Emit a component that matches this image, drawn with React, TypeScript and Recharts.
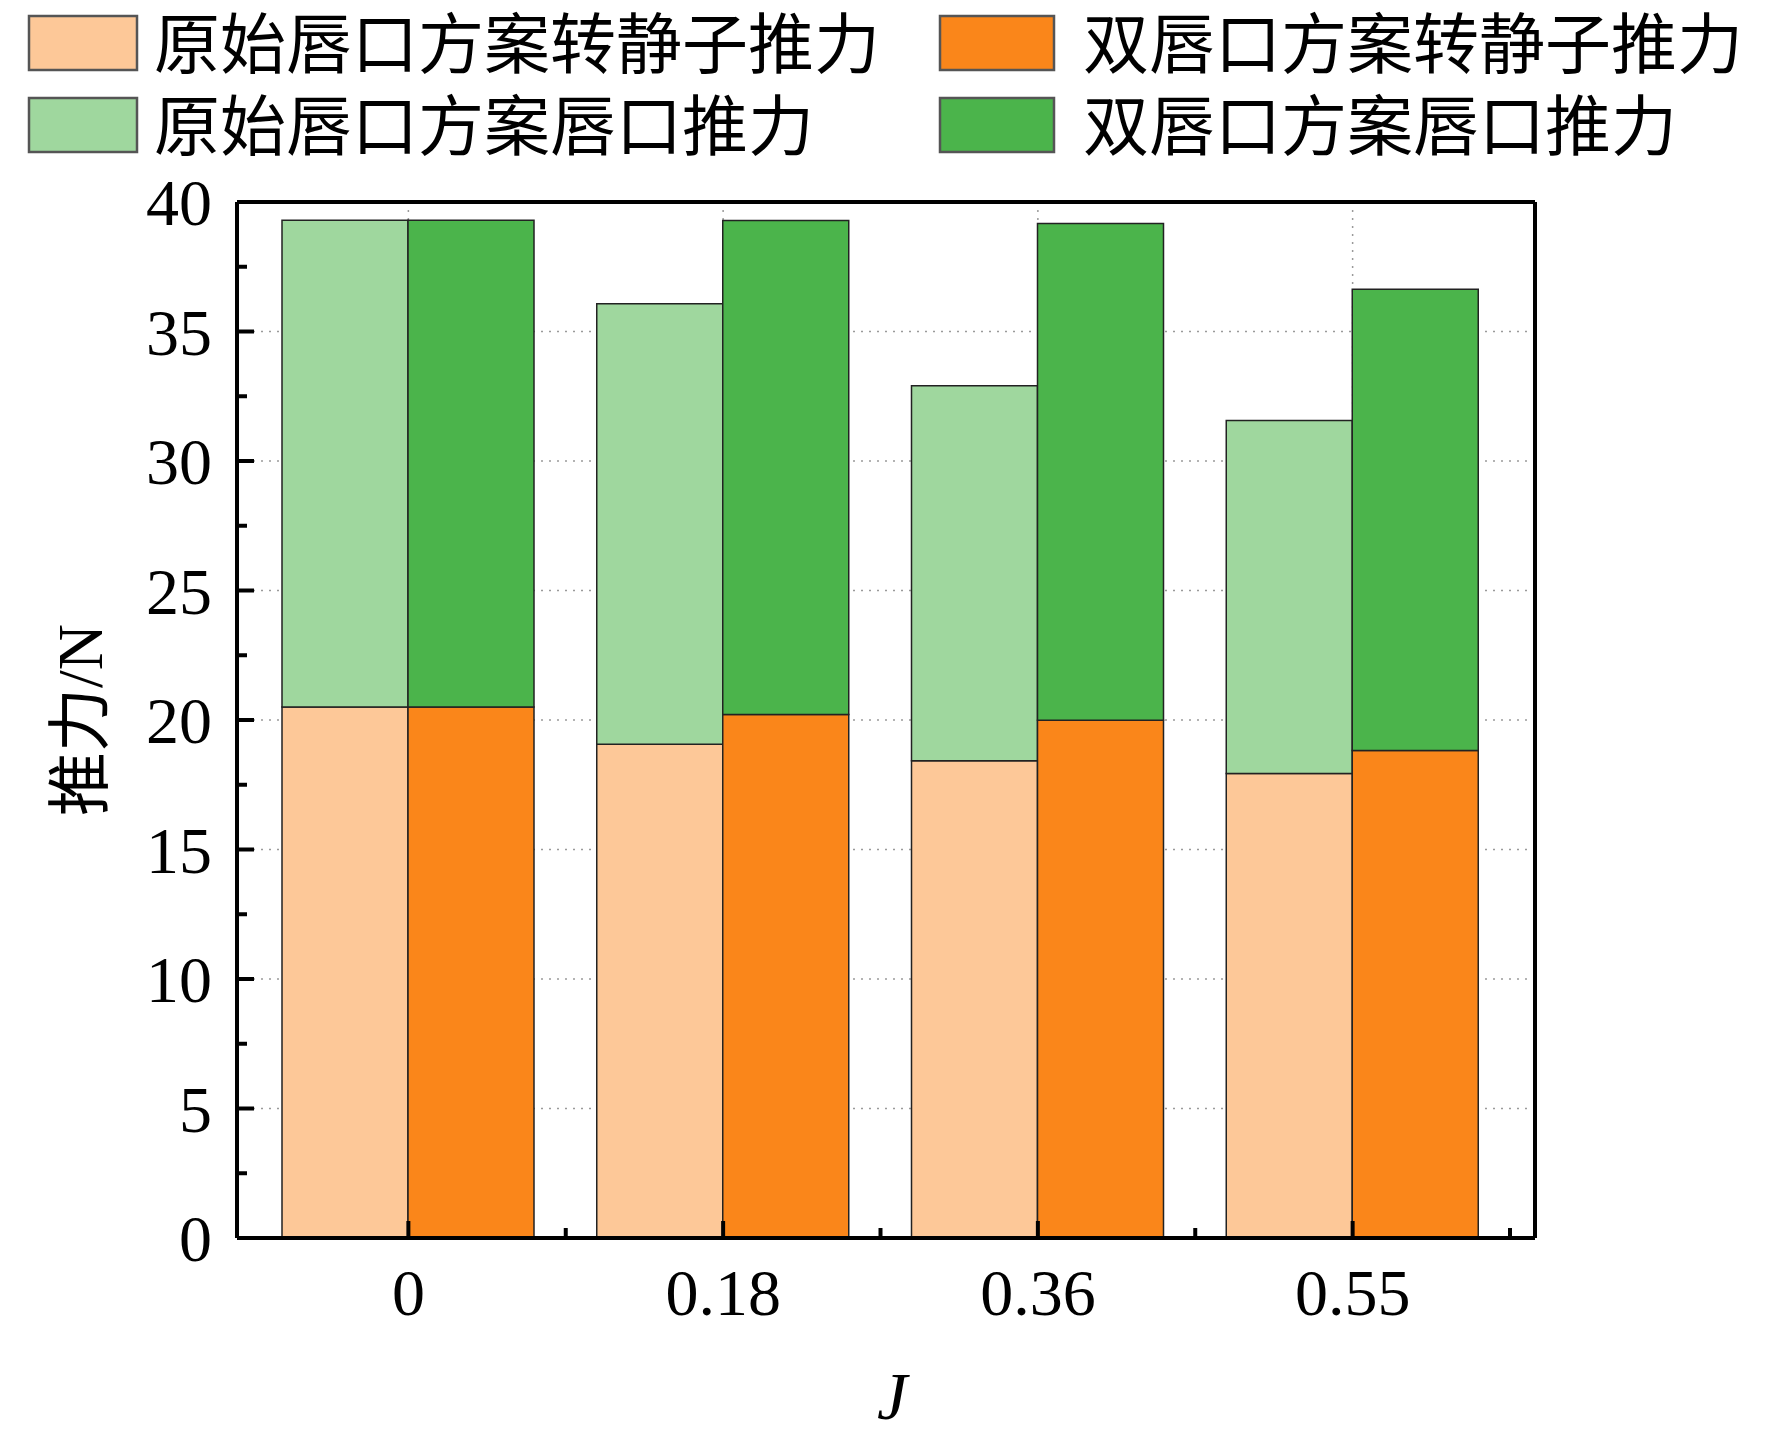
import React from "react"
import { Bar, BarChart, CartesianGrid, XAxis, YAxis } from "recharts"

// J values (category labels on the x axis)
const J_LABELS = ["0", "0.18", "0.36", "0.55"]

// thrust components, N
const ORIG_STATOR = [20.5, 19.06, 18.43, 17.93]
const ORIG_LIP = [18.8, 17.01, 14.48, 13.63]
const DUAL_STATOR = [20.5, 20.21, 19.99, 18.82]
const DUAL_LIP = [18.8, 19.08, 19.18, 17.81]

const Y_MAJOR = [0, 5, 10, 15, 20, 25, 30, 35, 40]
const Y_MINOR = [2.5, 7.5, 12.5, 17.5, 22.5, 27.5, 32.5, 37.5]
const Y_DOMAIN = [0, 40]

const SERIES = [
  { key: "origStator", name: "原始唇口方案转静子推力", color: "#FDC898", stack: "orig", values: ORIG_STATOR },
  { key: "origLip", name: "原始唇口方案唇口推力", color: "#9FD79E", stack: "orig", values: ORIG_LIP },
  { key: "dualStator", name: "双唇口方案转静子推力", color: "#FA861A", stack: "dual", values: DUAL_STATOR },
  { key: "dualLip", name: "双唇口方案唇口推力", color: "#4BB44B", stack: "dual", values: DUAL_LIP },
]

// legend grid: rows x columns, as in the figure
const LEGEND_ROWS = [
  ["origStator", "dualStator"],
  ["origLip", "dualLip"],
]

const SERIF = "'Liberation Serif', 'Times New Roman', serif"
const CJK = "'Noto Sans CJK SC', 'Noto Sans', sans-serif"

const W = 1772
const H = 1441

const rows = J_LABELS.map((j, i) => {
  const row: Record<string, string | number> = { j }
  SERIES.forEach((s) => {
    row[s.key] = s.values[i]
  })
  return row
})

const Y_TICKS = [...Y_MAJOR, ...Y_MINOR].sort((a, b) => a - b)

function gridRows(p: any) {
  const sc = p?.yAxis?.scale
  const inner = Y_MAJOR.slice(1, -1)
  if (typeof sc === "function") return inner.map((v) => sc(v))
  if (sc && typeof sc.map === "function") return inner.map((v) => sc.map(v))
  const off = p?.offset
  if (!off) return []
  return inner.map((v) => off.top + off.height * (1 - (v - Y_DOMAIN[0]) / (Y_DOMAIN[1] - Y_DOMAIN[0])))
}

function YTick(props: any) {
  const { x = 0, y = 0, payload } = props
  const major = Y_MAJOR.includes(payload.value)
  return (
    <g>
      <line x1={x} x2={x + (major ? 17 : 10)} y1={y} y2={y} stroke="#000" strokeWidth={4} />
      {major && (
        <text x={x - 25} y={y} dy="0.35em" textAnchor="end" fontFamily={SERIF} fontSize={66} fill="#000">
          {payload.value}
        </text>
      )}
    </g>
  )
}

function XTick(props: any) {
  const { x = 0, y = 0, payload, width = 0, visibleTicksCount = 4 } = props
  const half = payload.offset > 0 ? payload.offset : (width - 39) / visibleTicksCount / 2
  return (
    <g>
      <line x1={x} x2={x} y1={y} y2={y - 17} stroke="#000" strokeWidth={4} />
      <line x1={x + half} x2={x + half} y1={y} y2={y - 10} stroke="#000" strokeWidth={4} />
      <text x={x} y={y + 30} dy="0.71em" textAnchor="middle" fontFamily={SERIF} fontSize={66} fill="#000">
        {payload.value}
      </text>
    </g>
  )
}

function YLabel(props: any) {
  const vb = props.viewBox || { x: 0, y: 202, width: 237, height: 1036 }
  const cx = vb.x + 80
  const cy = vb.y + vb.height / 2
  return (
    <text
      x={cx}
      y={cy}
      textAnchor="middle"
      dominantBaseline="central"
      transform={`rotate(-90, ${cx}, ${cy})`}
      fontFamily={`'Liberation Serif', ${CJK}`}
      fontSize={64}
      fill="#000"
    >
      推力/N
    </text>
  )
}

function XLabel(props: any) {
  const vb = props.viewBox || { x: 237, y: 1238, width: 1298, height: 203 }
  return (
    <text
      x={vb.x + vb.width / 2 + 6}
      y={vb.y + 181}
      textAnchor="middle"
      fontFamily={SERIF}
      fontStyle="italic"
      fontSize={68}
      fill="#000"
    >
      J
    </text>
  )
}

function LegendBlock() {
  const colX = [29, 940]
  const textX = [154, 1083]
  const rowY = [16, 98]
  return (
    <svg width={W} height={180} style={{ position: "absolute", left: 0, top: 0 }}>
      {LEGEND_ROWS.map((r, ri) =>
        r.map((key, ci) => {
          const s = SERIES.find((d) => d.key === key)!
          return (
            <g key={key}>
              <rect
                x={colX[ci]}
                y={rowY[ri]}
                width={ci === 0 ? 108 : 114}
                height={54}
                fill={s.color}
                stroke="#555"
                strokeWidth={2.5}
              />
              <text
                x={textX[ci]}
                y={rowY[ri] + 23}
                dominantBaseline="central"
                fontFamily={CJK}
                fontSize={66}
                fill="#000"
              >
                {s.name}
              </text>
            </g>
          )
        })
      )}
    </svg>
  )
}

export default function App() {
  return (
    <div style={{ position: "absolute", left: 0, top: 0, width: W, height: H, background: "#fff" }}>
      <BarChart
        width={W}
        height={H}
        data={rows}
        margin={{ top: 201, right: 236, bottom: 0, left: 0 }}
        barGap={0}
        barSize={126}
      >
        <CartesianGrid
          xAxisId="b"
          yAxisId="l"
          stroke="#9a9a9a"
          strokeWidth={1.5}
          strokeDasharray="2 6"
          horizontalCoordinatesGenerator={gridRows}
        />
        <XAxis
          xAxisId="b"
          dataKey="j"
          height={203}
          padding={{ left: 14, right: 25 }}
          interval={0}
          tickSize={0}
          tickMargin={0}
          tickLine={false}
          axisLine={{ stroke: "#000", strokeWidth: 4 }}
          tick={<XTick />}
          label={<XLabel />}
        />
        <XAxis
          xAxisId="t"
          dataKey="j"
          orientation="top"
          height={1}
          tick={false}
          tickLine={false}
          axisLine={{ stroke: "#000", strokeWidth: 4 }}
        />
        <YAxis
          yAxisId="l"
          width={237}
          domain={Y_DOMAIN}
          ticks={Y_TICKS}
          interval={0}
          tickSize={0}
          tickMargin={0}
          tickLine={false}
          axisLine={{ stroke: "#000", strokeWidth: 4 }}
          tick={<YTick />}
          label={<YLabel />}
        />
        <YAxis
          yAxisId="r"
          orientation="right"
          width={1}
          domain={Y_DOMAIN}
          tick={false}
          tickLine={false}
          axisLine={{ stroke: "#000", strokeWidth: 4 }}
        />
        {SERIES.map((s) => (
          <Bar
            key={s.key}
            xAxisId="b"
            yAxisId="l"
            dataKey={s.key}
            name={s.name}
            stackId={s.stack}
            fill={s.color}
            stroke="#222"
            strokeWidth={1.5}
            isAnimationActive={false}
          />
        ))}
      </BarChart>
      <LegendBlock />
    </div>
  )
}
